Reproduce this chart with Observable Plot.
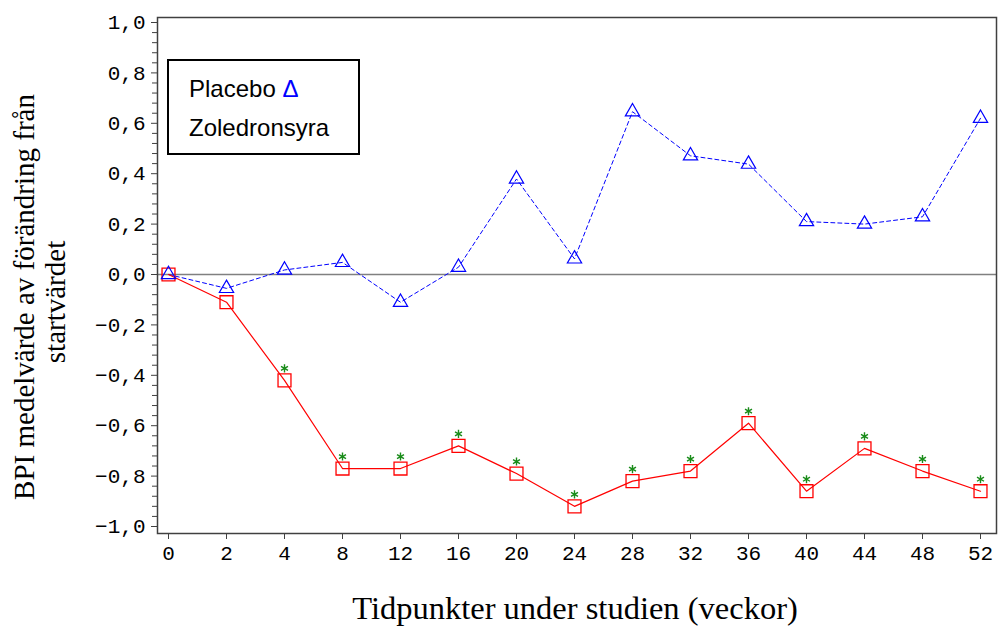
<!DOCTYPE html>
<html><head><meta charset="utf-8">
<script src="https://cdn.jsdelivr.net/npm/d3@7"></script>
<script src="https://cdn.jsdelivr.net/npm/@observablehq/plot@0.6"></script>
<style>
body{margin:0;background:#fff;}
#wrap{position:relative;width:1001px;height:627px;}
#legend{position:absolute;left:167px;top:59px;width:189px;height:92px;border:2px solid #000;background:#fff;font-family:"Liberation Sans",Arial,sans-serif;font-size:24px;color:#000;}
#legend div{position:absolute;left:20px;line-height:24px;white-space:nowrap;}
</style></head><body><div id="wrap"></div>
<script>
const weeks = ["0","2","4","8","12","16","20","24","28","32","36","40","44","48","52"];
const placebo = [0.00,-0.055,0.018,0.048,-0.11,0.029,0.379,0.062,0.646,0.471,0.438,0.21,0.20,0.229,0.62];
const zoledron = [0.00,-0.11,-0.42,-0.77,-0.77,-0.68,-0.79,-0.92,-0.82,-0.78,-0.59,-0.86,-0.69,-0.78,-0.86];
const significant = [false,false,true,true,true,true,true,true,true,true,true,true,true,true,true];
const yMajorTicks = [-1,-0.8,-0.6,-0.4,-0.2,0,0.2,0.4,0.6,0.8,1];
const seriesNames = ["Placebo","Zoledronsyra"];
const yTitle = ["BPI medelvärde av förändring från","startvärdet"];
const xTitle = "Tidpunkter under studien (veckor)";

const placeboData = weeks.map((w,i)=>({week:w, value:placebo[i], group:seriesNames[0]}));
const zoledData = weeks.map((w,i)=>({week:w, value:zoledron[i], sig:significant[i], group:seriesNames[1]}));
const yMinorTicks = d3.range(-25,26).filter(k=>k%5!==0).map(k=>k*0.04);
const fmt = d => (d < 0 ? "\u2212" : "") + Math.abs(d).toFixed(1).replace(".", ",");

const chart = Plot.plot({
  width:1001, height:627,
  marginLeft:157, marginRight:5, marginTop:17, marginBottom:94,
  style:{fontFamily:"'Liberation Mono', monospace", fontSize:"21px", color:"#000", background:"#fff"},
  x:{type:"point", domain:weeks, padding:0, insetLeft:5, insetRight:11, label:null},
  y:{domain:[-1,1], insetTop:5, insetBottom:7, label:null},
  marks:[
    Plot.ruleY([0], {stroke:"#808080", strokeWidth:1.5}),
    Plot.axisY(yMinorTicks, {tickSize:5, tickFormat:()=>"", label:null, stroke:"#404040"}),
    Plot.axisY(yMajorTicks, {tickSize:6, tickPadding:6, tickFormat:fmt, label:null, stroke:"#404040"}),
    Plot.axisX({tickSize:6, tickPadding:6, label:null, stroke:"#404040"}),
    Plot.frame({stroke:"#404040", strokeWidth:1.5}),
    Plot.line(placeboData, {x:"week", y:"value", stroke:"#0000ff", strokeWidth:1, strokeDasharray:"4,3"}),
    Plot.line(zoledData, {x:"week", y:"value", stroke:"#ff0000", strokeWidth:1.2}),
    Plot.dot(zoledData, {x:"week", y:"value", symbol:"square", r:7.3, stroke:"#ff0000", fill:"none", strokeWidth:1.3}),
    Plot.dot(placeboData, {x:"week", y:"value", symbol:"triangle", r:5.3, stroke:"#0000ff", fill:"none", strokeWidth:1.2}),
    Plot.dot(zoledData.filter(d=>d.sig), {x:"week", y:"value", symbol:"asterisk", r:3.8, stroke:"#1a8c1a", strokeWidth:1.4, dy:-12})
  ]
});

const svg = d3.select(chart);
svg.append("text").attr("transform","translate(34,297) rotate(-90)").attr("text-anchor","middle")
  .style("font-family","'Liberation Serif', serif").style("font-size","29px").attr("fill","#000").text(yTitle[0]);
svg.append("text").attr("transform","translate(65,302) rotate(-90)").attr("text-anchor","middle")
  .style("font-family","'Liberation Serif', serif").style("font-size","29px").attr("fill","#000").text(yTitle[1]);
svg.append("text").attr("x",575).attr("y",619).attr("text-anchor","middle")
  .style("font-family","'Liberation Serif', serif").style("font-size","32.5px").attr("fill","#000").text(xTitle);

const wrap = document.getElementById("wrap");
wrap.appendChild(chart);
const legend = document.createElement("div");
legend.id = "legend";
legend.innerHTML = `<div style="top:16px">${seriesNames[0]} <span style="color:#0000ff">\u0394</span></div><div style="top:55px">${seriesNames[1]}</div>`;
wrap.appendChild(legend);
</script>
</body></html>
